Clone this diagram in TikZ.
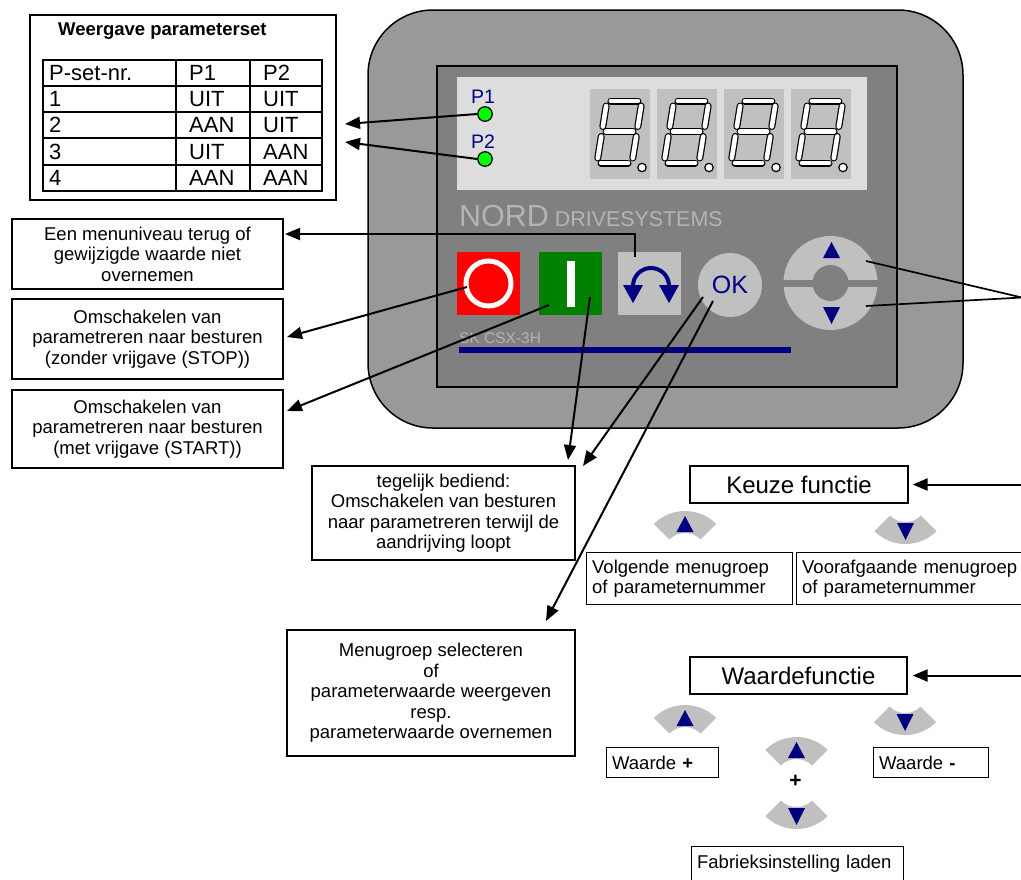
\documentclass[tikz,border=0pt]{standalone}
\usepackage{fontspec}
\setmainfont{Liberation Sans}
\usetikzlibrary{arrows.meta,calc}

\definecolor{casegray}{HTML}{999999}
\definecolor{panelgray}{HTML}{808080}
\definecolor{keygray}{HTML}{C0C0C0}
\definecolor{lcdgray}{HTML}{DDDDDD}
\definecolor{navy}{HTML}{000080}
\definecolor{ledgreen}{HTML}{00FF00}
\definecolor{stopred}{HTML}{FF0000}
\definecolor{startgreen}{HTML}{008000}
\definecolor{printgray}{HTML}{B4B4B4}

\tikzset{
  callout/.style={draw, line width=1.3pt, fill=white, inner sep=0pt, align=center,
    font=\fontsize{18.5}{20.5}\selectfont},
  notebox/.style={draw, line width=1.3pt, fill=white, inner xsep=5.5pt, inner ysep=0pt,
    align=left, anchor=north west, font=\fontsize{18.5}{20.5}\selectfont},
  headbox/.style={draw, line width=1.3pt, fill=white, inner sep=0pt,
    font=\fontsize{24}{24}\selectfont},
  pointer/.style={line width=2pt, -{Triangle[length=15pt,width=12pt]}},
  leader/.style={line width=1.7pt},
  cell/.style={anchor=base west, inner sep=0pt, font=\fontsize{22}{22}\selectfont},
  keysquare/.style={minimum size=63pt, inner sep=0pt},
  led/.style={circle, draw, line width=1.2pt, fill=ledgreen, minimum size=14.5pt, inner sep=0pt},
  ledlabel/.style={text=navy, inner sep=0pt, font=\fontsize{19.5}{19.5}\selectfont},
  segout/.style={line width=7pt, line cap=round},
  segin/.style={white, line width=4.6pt, line cap=round},
}

% one segment of a seven-segment digit: black rim, white core
\newcommand{\digseg}[4]{%
  \draw[segout] (#1,#2) -- (#3,#4);
  \draw[segin] (#1,#2) -- (#3,#4);}

% arrow key with the arrow pointing up; #1 = x of centre, #2 = top of the outer arc
\newcommand{\keyupicon}[2]{%
  \fill[keygray] ([shift={(45:44pt)}]#1,#2+44) arc[start angle=45,end angle=135,radius=44pt]
    -- ([shift={(135:22pt)}]#1,#2+44) arc[start angle=135,end angle=45,radius=22pt] -- cycle;
  \fill[navy] (#1-8.5,#2+21) -- (#1+8.5,#2+21) -- (#1,#2+5) -- cycle;}

% arrow key with the arrow pointing down; #1 = x of centre, #2 = bottom of the outer arc
\newcommand{\keydownicon}[2]{%
  \fill[keygray] ([shift={(225:44pt)}]#1,#2-44) arc[start angle=225,end angle=315,radius=44pt]
    -- ([shift={(315:22pt)}]#1,#2-44) arc[start angle=315,end angle=225,radius=22pt] -- cycle;
  \fill[navy] (#1-8.5,#2-21) -- (#1+8.5,#2-21) -- (#1,#2-4) -- cycle;}

\begin{document}
\begin{tikzpicture}[x=1pt,y=-1pt]
\useasboundingbox (0,0) rectangle (1021,879);
\clip (0,0) rectangle (1021,879);
\fill[white] (0,0) rectangle (1021,879);

% ---------- parameter set table ----------
\node[draw, line width=1.5pt, minimum width=306pt, minimum height=185pt, inner sep=0pt,
      anchor=north west] (psetbox) at (29,14) {};
\node[anchor=base west, inner sep=0pt, font=\fontsize{18.5}{18.5}\selectfont\bfseries]
      (psettitle) at (58,35) {Weergave parameterset};
\draw[line width=2pt] (42.5,60) rectangle (322,191);
\foreach \yy in {86,112,138,165} \draw[line width=2pt] (42.5,\yy) -- (322,\yy);
\foreach \xx in {175.5,250} \draw[line width=2pt] (\xx,60) -- (\xx,191);
\node[cell] (h1) at (49,80.5) {P-set-nr.};
\node[cell] (h2) at (189,80.5) {P1};
\node[cell] (h3) at (263,80.5) {P2};
\foreach \r/\yy/\pa/\pb in {1/106.5/UIT/UIT, 2/132.5/AAN/UIT, 3/159.5/UIT/AAN, 4/185.5/AAN/AAN}{
  \node[cell] (n\r) at (49,\yy) {\r};
  \node[cell] (a\r) at (189,\yy) {\pa};
  \node[cell] (b\r) at (263,\yy) {\pb};
}

% ---------- operating unit ----------
\draw[fill=casegray, line width=1.5pt, rounded corners=65pt] (368,10) rectangle (963,428);
\draw[fill=panelgray, line width=1.5pt] (437,66) rectangle (897,387);
\fill[lcdgray] (457,77) rectangle (867,190);

% parameter set LEDs
\node[led] (led1) at (485,114) {};
\node[led] (led2) at (485,159) {};
\node[ledlabel] (p1lbl) at (483,97) {P1};
\node[ledlabel] (p2lbl) at (483,142) {P2};

% four seven-segment digits with decimal point
\foreach \dx in {590,657,724,791}{
  \fill[keygray] (\dx,89) rectangle ++(60,90);
  \begin{scope}[shift={(\dx,163)}, xslant=0.16]
    \digseg{11}{-62}{38}{-62}
    \digseg{42}{-57}{42}{-36.5}
    \digseg{42}{-26.5}{42}{-5}
    \digseg{11}{0}{38}{0}
    \digseg{7}{-26.5}{7}{-5}
    \digseg{7}{-57}{7}{-36.5}
    \digseg{11}{-31.5}{38}{-31.5}
  \end{scope}
  \draw[fill=white, line width=1.2pt] (\dx+52,167.5) circle[radius=4.2pt];
}

% printed lettering
\node[anchor=base west, inner sep=0pt, text=printgray] (brand) at (459,226)
  {\fontsize{30.5}{30.5}\selectfont NORD\fontsize{21.4}{21.4}\selectfont\ DRIVESYSTEMS};
\node[anchor=base west, inner sep=0pt, text=printgray, font=\fontsize{15.5}{15.5}\selectfont]
  (model) at (459,343) {SK CSX-3H};
\fill[navy] (459,347) rectangle (791,353);

% keys
\node[keysquare, fill=stopred] (stop) at (488.5,283.5) {};
\draw[white, line width=5pt] (stop.center) circle[radius=22.5pt];
\node[keysquare, fill=startgreen] (start) at (570.5,283.5) {};
\fill[white] (567,261) rectangle (575,307);
\node[keysquare, fill=keygray] (back) at (649,283.5) {};
\draw[navy, line width=4pt] (633,286) arc[start angle=180, end angle=0, radius=18pt];
\fill[navy] (623,285) -- (643,285) -- (633,303) -- cycle;
\fill[navy] (659,285) -- (679,285) -- (669,303) -- cycle;
\node[circle, fill=keygray, minimum size=64pt, inner sep=0pt, text=navy,
      font=\fontsize{25}{25}\selectfont] (okkey) at (730,285) {OK};
\node[circle, fill=keygray, minimum size=94pt, inner sep=0pt] (pad) at (830.5,283) {};
\fill[panelgray] (pad.center) circle[radius=18pt];
\fill[panelgray] (783,279.5) rectangle (878,286.5);
\fill[navy] (823,258) -- (840,258) -- (831.5,242) -- cycle;
\fill[navy] (823,307) -- (840,307) -- (831.5,324) -- cycle;

% ---------- explanation boxes ----------
\node[callout, minimum width=271pt, minimum height=70pt] (boxback) at (147.5,254)
  {Een menuniveau terug of\\gewijzigde waarde niet\\overnemen};
\node[callout, minimum width=271pt, minimum height=80pt] (boxstop) at (147.5,339)
  {Omschakelen van\\parametreren naar besturen\\(zonder vrijgave (STOP))};
\node[callout, minimum width=271pt, minimum height=78pt] (boxstart) at (147.5,429)
  {Omschakelen van\\parametreren naar besturen\\(met vrijgave (START))};
\node[callout, minimum width=263pt, minimum height=94pt] (boxjoint) at (443.5,513)
  {tegelijk bediend:\\Omschakelen van besturen\\naar parametreren terwijl de\\aandrijving loopt};
\node[callout, minimum width=288pt, minimum height=126pt] (boxok) at (431,693)
  {Menugroep selecteren\\of\\parameterwaarde weergeven\\resp.\\parameterwaarde overnemen};

\node[headbox, minimum width=218pt, minimum height=37pt] (keuze) at (799,484.5) {Keuze functie};
\keyupicon{685}{511}
\keydownicon{905.5}{544}
\node[notebox, text width=195pt, minimum height=52pt] (volgende) at (586,552)
  {Volgende menugroep\\of parameternummer};
\node[notebox, text width=229pt, minimum height=52pt] (vorige) at (796,552)
  {Voorafgaande menugroep\\of parameternummer};

\node[headbox, minimum width=217pt, minimum height=37pt] (waarde) at (798.5,675.5) {Waardefunctie};
\keyupicon{685}{705}
\keydownicon{905}{735}
\node[notebox, text width=101pt, minimum height=30pt] (wplus) at (606,747) {Waarde \textbf{+}};
\node[notebox, text width=104pt, minimum height=30pt] (wmin) at (873,747) {Waarde \textbf{-}};
\keyupicon{796.5}{737}
\node[inner sep=0pt, font=\fontsize{21}{21}\selectfont\bfseries] (plus) at (795.5,781) {+};
\keydownicon{796.5}{829}
\node[notebox, text width=201pt, minimum height=34pt] (factory) at (691,846) {Fabrieksinstelling laden};

% ---------- connectors ----------
\coordinate (tabp1) at (345,124);
\coordinate (tabp2) at (345,142);
\draw[pointer] (led1.west) -- (tabp1);
\draw[pointer] (led2.west) -- (tabp2);

\coordinate (backpin) at (635,257);
\coordinate (backtip) at (285,234);
\draw[pointer] (backpin) |- (backtip);

\coordinate (stoppin) at (467,287);
\coordinate (stoptip) at (287,337);
\draw[pointer] (stoppin) -- (stoptip);

\coordinate (startpin) at (549,305);
\coordinate (starttip) at (287,411);
\draw[pointer] (startpin) -- (starttip);

\coordinate (startpin2) at (590,297);
\coordinate (jointtip1) at (568,460);
\draw[pointer] (startpin2) -- (jointtip1);

\coordinate (okpin1) at (703,297);
\coordinate (jointtip2) at (583,466);
\draw[pointer] (okpin1) -- (jointtip2);

\coordinate (okpin2) at (713,301);
\coordinate (selecttip) at (546,621);
\draw[pointer] (okpin2) -- (selecttip);

\coordinate (padup) at (866,261);
\coordinate (paddown) at (866,306);
\coordinate (padjoin) at (1022,297.5);
\draw[leader] (padup) -- (padjoin) -- (paddown);

\coordinate (keuzefeed) at (1030,484.5);
\draw[pointer, shorten >=4pt] (keuzefeed) -- (keuze.east);
\coordinate (waardefeed) at (1030,675.5);
\draw[pointer, shorten >=5pt] (waardefeed) -- (waarde.east);
\end{tikzpicture}
\end{document}
